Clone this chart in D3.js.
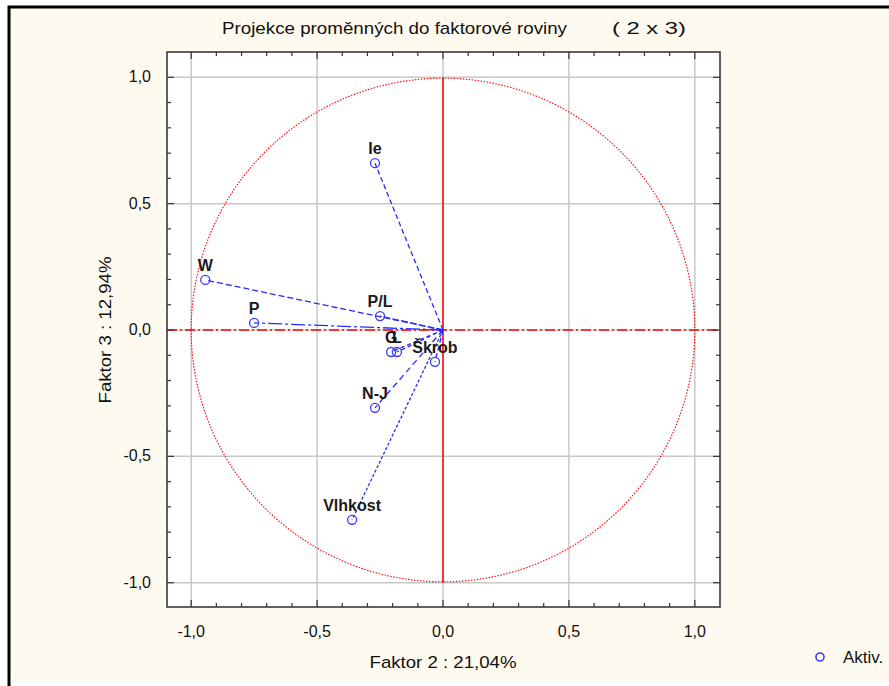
<!DOCTYPE html>
<html>
<head>
<meta charset="utf-8">
<script src="https://cdn.jsdelivr.net/npm/d3@7"></script>
<style>
  html, body { margin: 0; padding: 0; background: #fff; }
  svg text { font-family: "Liberation Sans", Arial, sans-serif; }
</style>
</head>
<body>
<svg id="chart" width="889" height="686"></svg>
<script>
// variable names and their loadings on factors 2 and 3
const labels = ['Ie', 'W', 'P', 'P/L', 'G', 'L', 'Škrob', 'N-J', 'Vlhkost'];
const fac2 = [-0.27, -0.944, -0.75, -0.25, -0.206, -0.183, -0.032, -0.27, -0.361];
const fac3 = [0.66, 0.198, 0.028, 0.055, -0.087, -0.087, -0.126, -0.308, -0.751];
const dashes = ['5,3', '6,3', '14,3,3,3', '7,2', '4,3', '4,3', '5,3', '6,4', '3,2'];
const tickValues = [-1, -0.5, 0, 0.5, 1];
const title = 'Projekce proměnných do faktorové roviny';
const titleSuffix = '( 2 x  3)';
const xTitle = 'Faktor 2 : 21,04%';
const yTitle = 'Faktor 3 : 12,94%';

const svg = d3.select('#chart');
const width = +svg.attr('width');
const height = +svg.attr('height');

// background + frame
svg.append('rect').attr('x', 9).attr('y', 7).attr('width', width - 9).attr('height', 674).attr('fill', '#fffaef');
svg.append('path').attr('d', `M9,${height} L9,7 L${width},7`).attr('fill', 'none').attr('stroke', '#000').attr('stroke-width', 3);

const plot = { left: 167, top: 52, right: 720, bottom: 607 };

const x = d3.scaleLinear().domain([-1.1, 1.1]).range([166, 720]);
const y = d3.scaleLinear().domain([-1.1, 1.1]).range([608, 52]);

svg.append('rect')
    .attr('x', plot.left).attr('y', plot.top)
    .attr('width', plot.right - plot.left).attr('height', plot.bottom - plot.top)
    .attr('fill', '#fff');

// grid
const grid = svg.append('g');
grid.selectAll('.gx').data(tickValues).enter().append('line')
    .attr('x1', d => x(d)).attr('x2', d => x(d))
    .attr('y1', plot.top).attr('y2', plot.bottom)
    .attr('stroke', '#c8c8c8').attr('stroke-width', 1.5);
grid.selectAll('.gy').data(tickValues).enter().append('line')
    .attr('y1', d => y(d)).attr('y2', d => y(d))
    .attr('x1', plot.left).attr('x2', plot.right)
    .attr('stroke', '#c8c8c8').attr('stroke-width', 1.5);

// unit circle and red axes
svg.append('circle')
    .attr('cx', x(0)).attr('cy', y(0)).attr('r', x(1) - x(0))
    .attr('fill', 'none').attr('stroke', '#ff0000').attr('stroke-width', 1.1)
    .attr('stroke-dasharray', '1.5,1.5');
svg.append('line')
    .attr('x1', plot.left).attr('x2', plot.right).attr('y1', y(0)).attr('y2', y(0))
    .attr('stroke', '#ff0000').attr('stroke-width', 1.3).attr('stroke-dasharray', '10,3,2,3');
svg.append('line')
    .attr('x1', x(0)).attr('x2', x(0)).attr('y1', y(1)).attr('y2', y(-1))
    .attr('stroke', '#ff0000').attr('stroke-width', 1.5);

// ticks (inward), minor every 0.1
const minor = d3.range(-11, 12).map(d => d / 10).filter(d => Math.abs(d) < 1.1);
const isMajor = d => Math.abs(d * 2 - Math.round(d * 2)) < 1e-6;
const tk = svg.append('g').attr('stroke', '#333').attr('stroke-width', 1.2);
minor.forEach(d => {
    const len = isMajor(d) ? 7 : 4;
    tk.append('line').attr('x1', x(d)).attr('x2', x(d)).attr('y1', plot.bottom).attr('y2', plot.bottom - len);
    tk.append('line').attr('x1', x(d)).attr('x2', x(d)).attr('y1', plot.top).attr('y2', plot.top + len);
    tk.append('line').attr('y1', y(d)).attr('y2', y(d)).attr('x1', plot.left).attr('x2', plot.left + len);
    tk.append('line').attr('y1', y(d)).attr('y2', y(d)).attr('x1', plot.right).attr('x2', plot.right - len);
});

svg.append('rect')
    .attr('x', plot.left).attr('y', plot.top)
    .attr('width', plot.right - plot.left).attr('height', plot.bottom - plot.top)
    .attr('fill', 'none').attr('stroke', '#3a3a3a').attr('stroke-width', 1.6);

const fmt = d => d3.format('.1f')(d).replace('.', ',').replace('−', '-');

// tick labels
svg.selectAll('.xl').data(tickValues).enter().append('text')
    .attr('x', d => x(d)).attr('y', 637)
    .attr('text-anchor', 'middle').attr('font-size', 16).attr('fill', '#111')
    .text(fmt);
svg.selectAll('.yl').data(tickValues).enter().append('text')
    .attr('x', 151).attr('y', d => y(d) + 5)
    .attr('text-anchor', 'end').attr('font-size', 16).attr('fill', '#111')
    .text(fmt);

// axis titles
svg.append('text').attr('x', x(0)).attr('y', 668)
    .attr('text-anchor', 'middle').attr('font-size', 17).attr('fill', '#111')
    .attr('textLength', 147).attr('lengthAdjust', 'spacingAndGlyphs')
    .text(xTitle);
svg.append('text')
    .attr('transform', `translate(111,${y(0)}) rotate(-90)`)
    .attr('text-anchor', 'middle').attr('font-size', 17).attr('fill', '#111')
    .attr('textLength', 147).attr('lengthAdjust', 'spacingAndGlyphs')
    .text(yTitle);

// chart title
svg.append('text').attr('x', 222).attr('y', 34)
    .attr('font-size', 17).attr('fill', '#111')
    .attr('textLength', 345).attr('lengthAdjust', 'spacingAndGlyphs')
    .text(title);
svg.append('text').attr('x', 612).attr('y', 34)
    .attr('font-size', 17).attr('fill', '#111')
    .attr('textLength', 74).attr('lengthAdjust', 'spacingAndGlyphs')
    .text(titleSuffix);

// vectors from origin
const pts = labels.map((l, i) => ({ label: l, x: fac2[i], y: fac3[i], dash: dashes[i] }));
svg.selectAll('.vec').data(pts).enter().append('line')
    .attr('x1', x(0)).attr('y1', y(0))
    .attr('x2', d => x(d.x)).attr('y2', d => y(d.y))
    .attr('stroke', '#2a2aff').attr('stroke-width', 1.3)
    .attr('stroke-dasharray', d => d.dash);

svg.selectAll('.pt').data(pts).enter().append('circle')
    .attr('cx', d => x(d.x)).attr('cy', d => y(d.y)).attr('r', 4.5)
    .attr('fill', 'none').attr('stroke', '#3a3aff').attr('stroke-width', 1.3);

svg.selectAll('.lab').data(pts).enter().append('text')
    .attr('x', d => x(d.x))
    .attr('y', d => y(d.y) - 9)
    .attr('text-anchor', 'middle').attr('font-size', 16).attr('font-weight', 'bold')
    .attr('fill', '#1a1a1a')
    .text(d => d.label);

// legend
svg.append('circle').attr('cx', 820).attr('cy', 657).attr('r', 4)
    .attr('fill', 'none').attr('stroke', '#3a3aff').attr('stroke-width', 1.6);
svg.append('text').attr('x', 843).attr('y', 663)
    .attr('font-size', 17).attr('fill', '#111').text('Aktiv.');
</script>
</body>
</html>
